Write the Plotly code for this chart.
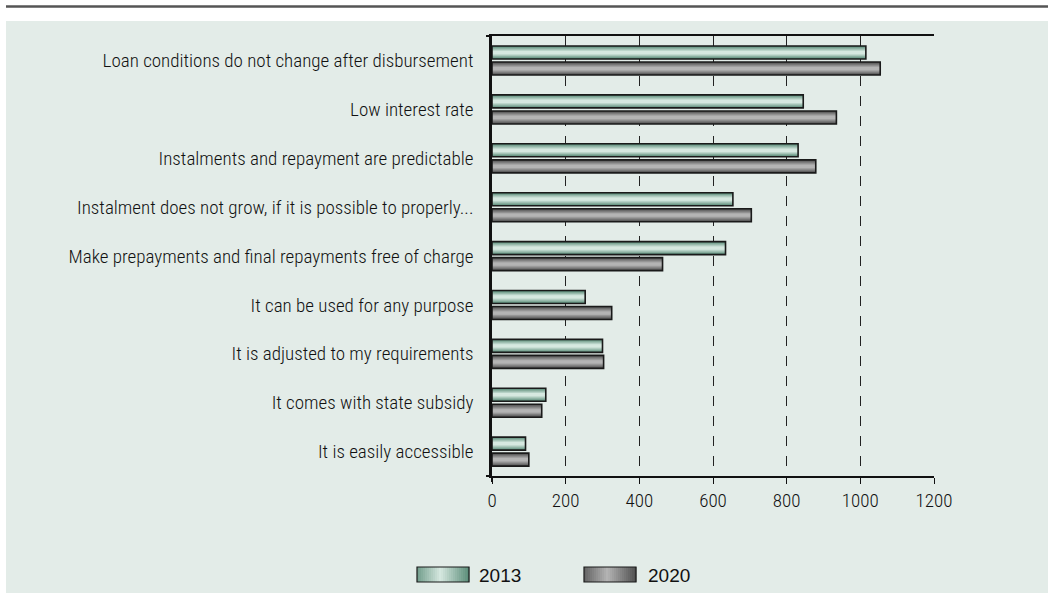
import plotly.graph_objects as go

# ---------------- data ----------------
categories = [
    "Loan conditions do not change after disbursement",
    "Low interest rate",
    "Instalments and repayment are predictable",
    "Instalment does not grow, if it is possible to properly...",
    "Make prepayments and final repayments free of charge",
    "It can be used for any purpose",
    "It is adjusted to my requirements",
    "It comes with state subsidy",
    "It is easily accessible",
]
values_2013 = [1015, 845, 831, 654, 634, 253, 300, 146, 91]
values_2020 = [1054, 935, 879, 704, 463, 325, 303, 135, 100]
series_names = ["2013", "2020"]
x_ticks = [0, 200, 400, 600, 800, 1000, 1200]

# ---------------- layout geometry ----------------
W, H = 1048, 593
L, R, T, B = 492, 114, 36, 117
PW, PH = W - L - R, H - T - B


def px(x):
    return (x - L) / PW


def py(y):
    return (T + PH - y) / PH


def hex2rgb(h):
    h = h.lstrip("#")
    return tuple(int(h[i:i + 2], 16) for i in (0, 2, 4))


def mix(a, b, t):
    ra, rb = hex2rgb(a), hex2rgb(b)
    return "rgb(%d,%d,%d)" % tuple(round(ra[i] + (rb[i] - ra[i]) * t) for i in range(3))


styles = {
    "2013": {"edge": "#5a8c78", "mid": "#d6e8e0", "center": -0.162},
    "2020": {"edge": "#505050", "mid": "#b4b4b4", "center": 0.166},
}
BAR_W = 0.266
FONT_NARROW = "Roboto Condensed, Liberation Sans Narrow, DejaVu Sans Condensed, Arial Narrow, sans-serif"
FONT_REG = "Liberation Sans, Arial, sans-serif"
TXT = "#111111"

fig = go.Figure()

series_values = {"2013": values_2013, "2020": values_2020}
layers = [1.0, 0.85, 0.7, 0.55, 0.4, 0.25]
for name in series_names:
    st = styles[name]
    vals = series_values[name]
    for i, f in enumerate(layers):
        t = i / (len(layers) - 1)
        w = BAR_W * f
        fig.add_trace(go.Bar(
            y=categories, x=vals, orientation="h", name=name,
            width=w, offset=st["center"] - w / 2,
            marker=dict(color=mix(st["edge"], st["mid"], t), line=dict(width=0)),
            showlegend=False, hoverinfo="skip" if i else "x+name",
        ))
    # outline
    fig.add_trace(go.Bar(
        y=categories, x=vals, orientation="h", name=name,
        width=BAR_W, offset=st["center"] - BAR_W / 2,
        marker=dict(color="rgba(0,0,0,0)", line=dict(width=1.6, color="#1a1a1a")),
        showlegend=False, hoverinfo="skip",
    ))

PANEL = "#e3ece8"
shapes = [
    # panel background
    dict(type="rect", xref="paper", yref="paper", x0=px(6), x1=px(1048), y0=py(593), y1=py(21),
         fillcolor=PANEL, line=dict(width=0), layer="below"),
    # top rule
    dict(type="line", xref="paper", yref="paper", x0=px(6), x1=px(1048), y0=py(6.5), y1=py(6.5),
         line=dict(color="#555555", width=2.5)),
    # axis line extensions
    dict(type="line", xref="paper", yref="paper", x0=px(486), x1=px(492), y0=1, y1=1,
         line=dict(color="#111111", width=2)),
    dict(type="line", xref="paper", yref="paper", x0=px(486), x1=px(492), y0=0, y1=0,
         line=dict(color="#111111", width=2)),
    dict(type="line", xref="paper", yref="paper", x0=0, x1=0, y0=py(482), y1=0,
         line=dict(color="#111111", width=2)),
]

annotations = []
legend_pos = {"2013": (417, 469, 477), "2020": (584, 636, 646)}
n_str = 26
for name in series_names:
    x0, x1, tx = legend_pos[name]
    st = styles[name]
    sw = (x1 - x0) / n_str
    for k in range(n_str):
        d = abs((k + 0.5) / n_str - 0.45) / 0.55
        shapes.append(dict(type="rect", xref="paper", yref="paper",
                           x0=px(x0 + k * sw), x1=px(x0 + (k + 1) * sw + 0.3),
                           y0=py(582), y1=py(567),
                           fillcolor=mix(st["mid"], st["edge"], min(d, 1)), line=dict(width=0)))
    shapes.append(dict(type="rect", xref="paper", yref="paper", x0=px(x0), x1=px(x1),
                       y0=py(582), y1=py(567), line=dict(color="#1a1a1a", width=1.2)))
    annotations.append(dict(xref="paper", yref="paper", x=px(tx), y=py(575), text=name,
                            showarrow=False, xanchor="left", yanchor="middle",
                            font=dict(family=FONT_REG, size=19, color=TXT)))

fig.update_layout(
    width=W, height=H,
    margin=dict(l=L, r=R, t=T, b=B, pad=0),
    paper_bgcolor="white", plot_bgcolor=PANEL,
    barmode="overlay",
    showlegend=False,
    shapes=shapes, annotations=annotations,
    xaxis=dict(
        range=[0, 1200], tickvals=x_ticks, ticktext=[str(v) for v in x_ticks],
        showline=True, mirror=True, linecolor="#111111", linewidth=2,
        ticks="outside", ticklen=6, tickwidth=1.3, tickcolor="#111111",
        showgrid=True, gridcolor="#222222", gridwidth=1.2, griddash="10px,10px",
        zeroline=False,
        tickfont=dict(family=FONT_NARROW, size=19, color=TXT, weight=300),
    ),
    yaxis=dict(
        type="category", categoryorder="array", categoryarray=categories,
        autorange="reversed",
        showline=True, linecolor="#111111", linewidth=2.5,
        ticks="", showgrid=False, zeroline=False,
        ticklabelstandoff=12,
        tickfont=dict(family=FONT_NARROW, size=19, color=TXT, weight=300),
    ),
)

fig.write_html(
    "out.html",
    config={"displayModeBar": False},
    post_script="document.body.style.margin='0';document.body.style.overflow='hidden';",
)
